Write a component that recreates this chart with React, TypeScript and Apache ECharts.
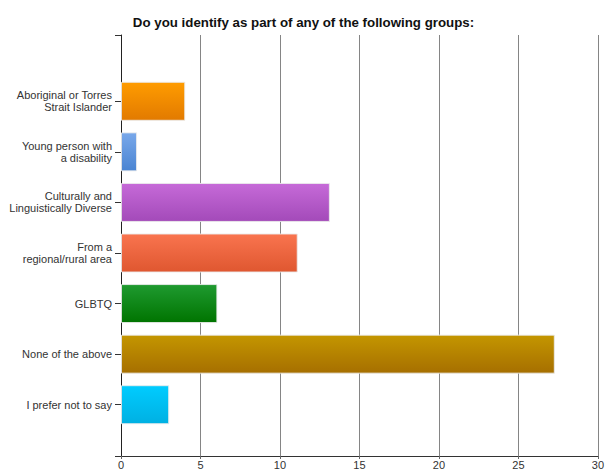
import React, { useEffect, useRef } from "react";
import * as echarts from "echarts";

const title = "Do you identify as part of any of the following groups:";
const categories = [
  "Aboriginal or Torres\nStrait Islander",
  "Young person with\na disability",
  "Culturally and\nLinguistically Diverse",
  "From a\nregional/rural area",
  "GLBTQ",
  "None of the above",
  "I prefer not to say",
];
const counts = [4, 1, 13, 11, 6, 27, 3];
const xMin = 0;
const xMax = 30;
const xStep = 5;

const gradients: [string, string][] = [
  ["#ff9c00", "#e27a00"],
  ["#79a8ea", "#4a84d2"],
  ["#c66ad8", "#a34ab9"],
  ["#f9744f", "#df5730"],
  ["#1f9a30", "#007400"],
  ["#c49600", "#a66f00"],
  ["#00ccff", "#00b0e2"],
];

export default function App() {
  const ref = useRef<HTMLDivElement>(null);
  useEffect(() => {
    if (!ref.current) return;
    const chart = echarts.init(ref.current, null, { renderer: "svg" });
    const font = "'Liberation Sans', Arial, sans-serif";
    chart.setOption({
      animation: false,
      backgroundColor: "#ffffff",
      title: {
        text: title,
        left: "center",
        top: 11,
        textStyle: { fontFamily: font, fontSize: 13.3, fontWeight: "bold", color: "#111" },
      },
      grid: [
        { left: 121, right: 4, top: 35, bottom: 17 },
        { left: 121, right: 4, top: 76, bottom: 43 },
      ],
      xAxis: [
        {
          gridIndex: 0,
          type: "value",
          min: xMin,
          max: xMax,
          interval: xStep,
          axisLine: { show: true, lineStyle: { color: "#333", width: 1 } },
          axisTick: { show: true, length: 3, lineStyle: { color: "#666" } },
          axisLabel: { fontFamily: font, fontSize: 11, color: "#333", margin: 3 },
          splitLine: { show: true, lineStyle: { color: "#858585", width: 1 } },
        },
        {
          gridIndex: 1,
          type: "value",
          min: xMin,
          max: xMax,
          show: false,
        },
      ],
      yAxis: [
        {
          gridIndex: 0,
          type: "value",
          min: 0,
          max: 1,
          interval: 1,
          axisLine: { show: true, lineStyle: { color: "#222", width: 1 } },
          axisTick: { show: true, length: 6, lineStyle: { color: "#333" } },
          axisLabel: { show: false },
          splitLine: { show: false },
        },
        {
          gridIndex: 1,
          type: "category",
          data: categories,
          inverse: true,
          axisLine: { show: false },
          axisTick: { show: true, length: 6, alignWithLabel: true, lineStyle: { color: "#333" } },
          axisLabel: {
            fontFamily: font,
            fontSize: 11,
            color: "#333",
            margin: 9,
            lineHeight: 12,
            align: "right",
          },
          splitLine: { show: false },
        },
      ],
      series: [
        {
          type: "bar",
          xAxisIndex: 1,
          yAxisIndex: 1,
          barWidth: 39,
          data: counts.map((v, i) => ({
            value: v,
            itemStyle: {
              color: new echarts.graphic.LinearGradient(0, 0, 0, 1, [
                { offset: 0, color: gradients[i][0] },
                { offset: 1, color: gradients[i][1] },
              ]),
              borderColor: "rgba(235,235,235,0.9)",
              borderWidth: 1,
            },
          })),
        },
      ],
    });
    return () => chart.dispose();
  }, []);
  return (
    <div
      ref={ref}
      style={{ position: "fixed", left: 0, top: 0, width: 607, height: 473 }}
    />
  );
}
